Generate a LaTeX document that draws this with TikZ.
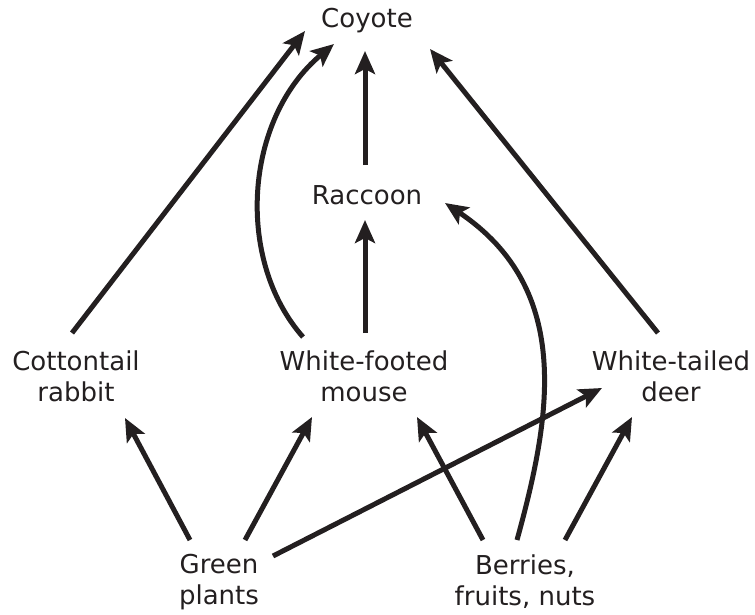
\documentclass[tikz,border=0pt]{standalone}
\usepackage{fontspec}
\setmainfont{DejaVu Sans}
\usetikzlibrary{arrows.meta}
\definecolor{ink}{HTML}{231F20}
\begin{document}
\begin{tikzpicture}[x=1pt, y=-1pt,
	every node/.style={align=center, inner sep=0pt, text=ink, font=\fontsize{26}{31}\selectfont},
	feeds/.style={draw=ink, line width=5pt, -{Stealth[length=23pt, width=20pt, inset=5pt]}}]
	\useasboundingbox (0,0) rectangle (755,614);

	\node (coyote) at (367,21) {Coyote};
	\node (raccoon) at (367,195) {Raccoon};
	\node (rabbit) at (76,376) {Cottontail\\rabbit};
	\node (mouse) at (364,376) {White-footed\\mouse};
	\node (deer) at (671,376) {White-tailed\\deer};
	\node (green) at (219,582) {Green\\plants};
	\node (berries) at (525,582) {Berries,\\fruits, nuts};

	\draw[feeds] ([shift={(-4,-43)}]rabbit.center) -- ([shift={(-62,10)}]coyote.center);
	\draw[feeds] ([shift={(-61,-39)}]mouse.center) .. controls +(-68,-77) and +(-90,75) .. ([shift={(-33,23)}]coyote.center);
	\draw[feeds] ([shift={(1,-43)}]mouse.center) -- ([shift={(-2,25)}]raccoon.center);
	\draw[feeds] ([shift={(-2,-30)}]raccoon.center) -- ([shift={(-2,30)}]coyote.center);
	\draw[feeds] ([shift={(-13,-43)}]deer.center) -- ([shift={(63,28)}]coyote.center);

	\draw[feeds] ([shift={(-29,-42)}]green.center) -- ([shift={(49,42)}]rabbit.center);
	\draw[feeds] ([shift={(26,-42)}]green.center) -- ([shift={(-52,41)}]mouse.center);
	\draw[feeds] ([shift={(54,-26)}]green.center) -- ([shift={(-69,12)}]deer.center);
	\draw[feeds] ([shift={(-42,-42)}]berries.center) -- ([shift={(53,41)}]mouse.center);
	\draw[feeds] ([shift={(-8,-42)}]berries.center) .. controls +(33,-120) and +(130,87) .. ([shift={(78,8)}]raccoon.center);
	\draw[feeds] ([shift={(40,-42)}]berries.center) -- ([shift={(-39,41)}]deer.center);
\end{tikzpicture}
\end{document}
